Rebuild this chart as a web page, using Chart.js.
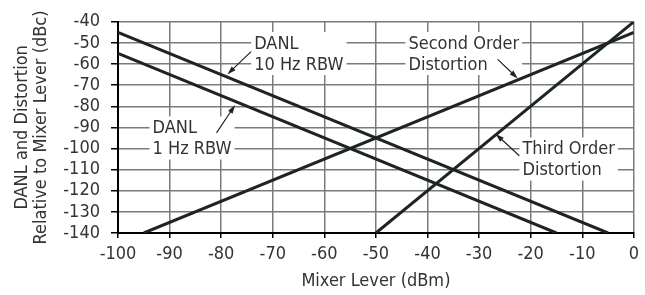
<!DOCTYPE html>
<html>
<head>
<meta charset="utf-8">
<script src="https://cdn.jsdelivr.net/npm/chart.js@4/dist/chart.umd.min.js"></script>
<style>
  html, body { margin: 0; padding: 0; background: #fff; }
  #wrap { width: 645px; height: 295px; }
</style>
</head>
<body>
<div id="wrap"><canvas id="chart" width="645" height="295"></canvas></div>
<script>
// mixer level (dBm) end points and the level (dBc) at each end
const danl10X = [-100, -5];
const danl10Y = [-45, -140];
const danl1X = [-100, -15];
const danl1Y = [-55, -140];
const secondX = [-95, 0];
const secondY = [-140, -45];
const thirdX = [-50, 0];
const thirdY = [-140, -40];

const xTicks = [-100, -90, -80, -70, -60, -50, -40, -30, -20, -10, 0];
const yTicks = [-40, -50, -60, -70, -80, -90, -100, -110, -120, -130, -140];

const FONT = "'Liberation Sans Narrow', 'DejaVu Sans Condensed', 'Liberation Sans', sans-serif";
const INK = '#1c2424';
const TEXT = '#333';
const GRID = '#7a7a7a';

Chart.defaults.font.family = FONT;
Chart.defaults.font.size = 18;
Chart.defaults.color = TEXT;

const pts = (xs, ys) => xs.map((x, i) => ({ x: x, y: ys[i] }));

// callout labels, anchored at data coords (left edge, one y per line)
const callouts = [
	{ lines: ['DANL', '10 Hz RBW'], x: -73.6, ys: [-50, -60], arrow: [[-74.2, -54.1], [-78.8, -64.9]] },
	{ lines: ['DANL', '1 Hz RBW'], x: -93.3, ys: [-90, -100], arrow: [[-80.9, -92.6], [-77.3, -79.4]] },
	{ lines: ['Second Order', 'Distortion'], x: -43.7, ys: [-50, -60], arrow: [[-26.4, -57.8], [-22.5, -66.8]] },
	{ lines: ['Third Order', 'Distortion'], x: -21.6, ys: [-100, -110], arrow: [[-22.2, -103.4], [-26.8, -93.1]] },
];

const calloutPlugin = {
	id: 'callouts',
	beforeDatasetsDraw(chart) {
		const { ctx, scales: { x, y } } = chart;
		ctx.save();
		ctx.font = '18px ' + FONT;
		ctx.textBaseline = 'middle';
		ctx.textAlign = 'left';
		callouts.forEach((c) => {
			const left = x.getPixelForValue(c.x);
			const w = Math.max(...c.lines.map((t) => ctx.measureText(t).width));
			const top = y.getPixelForValue(c.ys[0]) - 11;
			const bottom = y.getPixelForValue(c.ys[c.ys.length - 1]) + 11;
			ctx.fillStyle = '#fff';
			ctx.fillRect(left - 3, top, w + 6, bottom - top);
			ctx.fillStyle = TEXT;
			c.lines.forEach((t, i) => {
				ctx.fillText(t, left, y.getPixelForValue(c.ys[i]) + 1);
			});
		});
		ctx.restore();
	},
	afterDatasetsDraw(chart) {
		const { ctx, scales: { x, y } } = chart;
		ctx.save();
		ctx.strokeStyle = '#222';
		ctx.fillStyle = '#222';
		ctx.lineWidth = 1.2;
		callouts.forEach((c) => {
			const x0 = x.getPixelForValue(c.arrow[0][0]);
			const y0 = y.getPixelForValue(c.arrow[0][1]);
			const x1 = x.getPixelForValue(c.arrow[1][0]);
			const y1 = y.getPixelForValue(c.arrow[1][1]);
			const a = Math.atan2(y1 - y0, x1 - x0);
			const len = 9;
			ctx.beginPath();
			ctx.moveTo(x0, y0);
			ctx.lineTo(x1 - Math.cos(a) * len * 0.8, y1 - Math.sin(a) * len * 0.8);
			ctx.stroke();
			ctx.beginPath();
			ctx.moveTo(x1, y1);
			ctx.lineTo(x1 - len * Math.cos(a - 0.3), y1 - len * Math.sin(a - 0.3));
			ctx.lineTo(x1 - len * Math.cos(a + 0.3), y1 - len * Math.sin(a + 0.3));
			ctx.closePath();
			ctx.fill();
		});
		ctx.restore();
	},
};

const lineStyle = {
	borderColor: INK,
	borderWidth: 3,
	pointRadius: 0,
	fill: false,
	tension: 0,
};

new Chart(document.getElementById('chart'), {
	type: 'line',
	data: {
		datasets: [
			{ label: 'DANL 10 Hz RBW', data: pts(danl10X, danl10Y), ...lineStyle },
			{ label: 'DANL 1 Hz RBW', data: pts(danl1X, danl1Y), ...lineStyle },
			{ label: 'Second Order Distortion', data: pts(secondX, secondY), ...lineStyle },
			{ label: 'Third Order Distortion', data: pts(thirdX, thirdY), ...lineStyle },
		],
	},
	options: {
		responsive: false,
		animation: false,
		layout: { padding: { top: 20, right: 8, left: 0, bottom: 0 } },
		plugins: { legend: { display: false }, tooltip: { enabled: false } },
		scales: {
			x: {
				type: 'linear',
				min: -100,
				max: 0,
				afterBuildTicks: (s) => { s.ticks = xTicks.map((v) => ({ value: v })); },
				afterFit: (s) => { s.height = 62; },
				ticks: { padding: 6, autoSkip: false, maxRotation: 0, color: TEXT, font: { size: 18 } },
				grid: { color: GRID, lineWidth: 1.5, tickLength: 5, tickColor: '#000', tickWidth: 1.5 },
				border: { color: '#000', width: 2 },
				title: { display: true, text: 'Mixer Lever (dBm)', color: TEXT, font: { size: 18 }, padding: { top: 0, bottom: 3 } },
			},
			y: {
				type: 'linear',
				min: -140,
				max: -40,
				afterBuildTicks: (s) => { s.ticks = yTicks.map((v) => ({ value: v })); },
				afterFit: (s) => { s.width = 118; },
				ticks: { padding: 11, autoSkip: false, color: TEXT, font: { size: 18 } },
				grid: { color: GRID, lineWidth: 1.5, tickLength: 7, tickColor: '#000', tickWidth: 1.5 },
				border: { color: '#000', width: 2 },
				title: {
					display: true,
					text: ['DANL and Distortion', 'Relative to Mixer Lever (dBc)'],
					color: TEXT,
					font: { size: 18, lineHeight: 1.1 },
					padding: { top: 12, bottom: 0 },
				},
			},
		},
	},
	plugins: [calloutPlugin],
});
</script>
</body>
</html>
